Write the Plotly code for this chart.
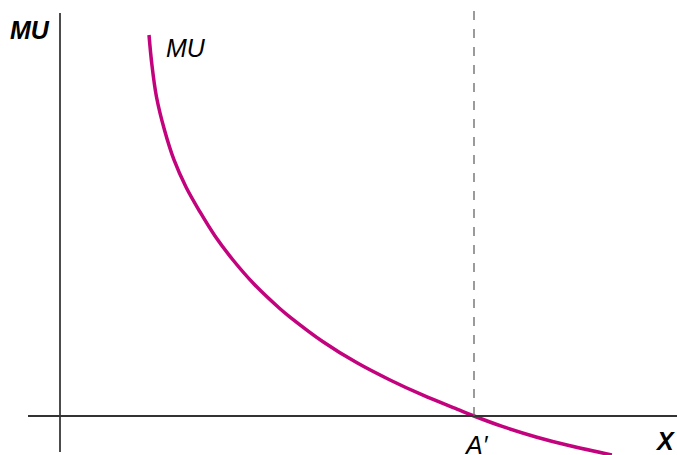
import plotly.graph_objects as go

# Curve data (quantity X vs marginal utility MU), origin at (0,0), A' at X=10
curve_x = [2.150, 2.215, 2.331, 2.524, 2.754, 3.043, 3.382, 3.744, 4.179, 4.686, 5.314,
           5.556, 6.353, 7.174, 7.971, 8.768, 9.589, 10.0, 10.70, 11.52, 12.32, 13.33]
curve_y = [9.203, 8.527, 7.705, 6.908, 6.184, 5.531, 4.928, 4.348, 3.768, 3.188, 2.592,
           2.391, 1.795, 1.285, 0.870, 0.502, 0.167, 0.0, -0.258, -0.512, -0.720, -0.942]
a_prime_x = 10.0

S = 41.4
W, H = 677, 455
x_range = [-60 / S, 617 / S]
y_range = [-39 / S, 416 / S]

fig = go.Figure()
fig.add_trace(go.Scatter(x=curve_x, y=curve_y, mode="lines",
                         line=dict(color="#c2037d", width=3.5, shape="spline", smoothing=1.0),
                         hoverinfo="skip", showlegend=False))

shapes = [
    dict(type="line", x0=0, x1=0, y0=(416 - 452) / S, y1=(416 - 13) / S,
         line=dict(color="#111111", width=1.5)),
    dict(type="line", x0=(28 - 60) / S, x1=x_range[1] + 1, y0=0, y1=0,
         line=dict(color="#333333", width=2)),
    dict(type="line", x0=a_prime_x, x1=a_prime_x, y0=0, y1=(416 - 9) / S,
         line=dict(color="#666666", width=1.3, dash="dash")),
]

font = "Liberation Sans, Arial, sans-serif"
annotations = [
    dict(x=(30 - 60) / S, y=(416 - 30) / S, text="<b><i>MU</i></b>", showarrow=False,
         font=dict(family=font, size=25, color="black")),
    dict(x=(186 - 60) / S, y=(416 - 48) / S, text="<i>MU</i>", showarrow=False,
         font=dict(family=font, size=25, color="black")),
    dict(x=(476 - 60) / S, y=(416 - 445) / S, text="<i>A′</i>", showarrow=False,
         font=dict(family=font, size=25, color="black")),
    dict(x=(665 - 60) / S, y=(416 - 441) / S, text="<b><i>X</i></b>", showarrow=False,
         font=dict(family=font, size=25, color="black")),
]

fig.update_layout(
    width=W, height=H,
    margin=dict(l=0, r=0, t=0, b=0),
    paper_bgcolor="white", plot_bgcolor="white",
    xaxis=dict(range=x_range, visible=False, fixedrange=True),
    yaxis=dict(range=y_range, visible=False, fixedrange=True),
    shapes=shapes, annotations=annotations,
)
fig.write_html("out.html",
               config={"displayModeBar": False, "staticPlot": True},
               post_script="document.body.style.margin='0';document.body.style.overflow='hidden';")
